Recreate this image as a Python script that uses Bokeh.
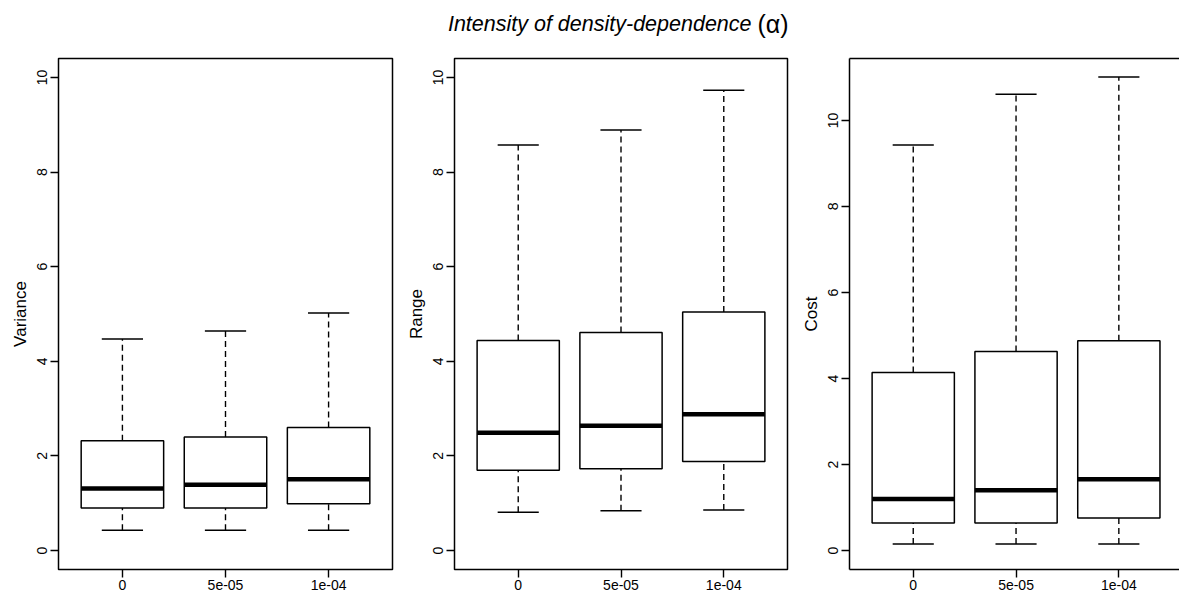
from bokeh.plotting import figure
from bokeh.models import Range1d, FixedTicker, LinearAxis, ColumnDataSource
from bokeh.layouts import row, column
from bokeh.core.properties import value
from bokeh.embed import file_html
from bokeh.resources import INLINE

# ---------------- data ----------------
alpha_labels = ["0", "5e-05", "1e-04"]
positions = [1, 2, 3]

variance_lower = [0.43, 0.43, 0.43]
variance_q1 = [0.90, 0.90, 0.99]
variance_median = [1.31, 1.39, 1.51]
variance_q3 = [2.32, 2.40, 2.60]
variance_upper = [4.47, 4.64, 5.02]

range_lower = [0.81, 0.84, 0.86]
range_q1 = [1.70, 1.73, 1.88]
range_median = [2.49, 2.64, 2.88]
range_q3 = [4.44, 4.61, 5.04]
range_upper = [8.57, 8.89, 9.73]

cost_lower = [0.15, 0.15, 0.15]
cost_q1 = [0.64, 0.64, 0.76]
cost_median = [1.20, 1.40, 1.66]
cost_q3 = [4.14, 4.63, 4.88]
cost_upper = [9.43, 10.61, 11.01]

y_limits = [10, 10, 11]
title_main = "Intensity of density-dependence"
title_symbol = "(\u03b1)"

FONT = "Liberation Sans"
TITLE_H = 50
PANEL_H = 544
BOX_HALF = 0.4
CAP_HALF = 0.2


def make_panel(ylabel, lower, q1, med, q3, upper, ymax, width, bl, br, xend, open_right=False):
    pad = 0.04 * ymax
    p = figure(width=width, height=PANEL_H, title=None,
               x_range=Range1d(0.38, xend), y_range=Range1d(-pad, ymax + pad),
               output_backend="svg", toolbar_location=None,
               min_border_left=bl, min_border_right=br,
               min_border_top=8, min_border_bottom=25)
    p.xgrid.visible = False
    p.ygrid.visible = False
    p.background_fill_color = "white"
    p.border_fill_color = "white"

    src = ColumnDataSource(dict(
        x=positions,
        xl=[x - BOX_HALF for x in positions],
        xr=[x + BOX_HALF for x in positions],
        cl=[x - CAP_HALF for x in positions],
        cr=[x + CAP_HALF for x in positions],
        lower=lower, q1=q1, med=med, q3=q3, upper=upper,
    ))
    # whiskers
    p.segment(x0="x", y0="q3", x1="x", y1="upper", source=src,
              line_color="black", line_width=1.4, line_dash="6 4")
    p.segment(x0="x", y0="lower", x1="x", y1="q1", source=src,
              line_color="black", line_width=1.4, line_dash="6 4")
    # caps
    p.segment(x0="cl", y0="upper", x1="cr", y1="upper", source=src,
              line_color="black", line_width=1.5)
    p.segment(x0="cl", y0="lower", x1="cr", y1="lower", source=src,
              line_color="black", line_width=1.5)
    # boxes
    p.vbar(x="x", width=2 * BOX_HALF, bottom="q1", top="q3", source=src,
           fill_color="white", line_color="black", line_width=1.5)
    # medians
    p.segment(x0="xl", y0="med", x1="xr", y1="med", source=src,
              line_color="black", line_width=4.5)

    xa = p.xaxis[0]
    xa.ticker = FixedTicker(ticks=positions)
    xa.major_label_overrides = {pos: lab for pos, lab in zip(positions, alpha_labels)}
    xa.major_label_standoff = 2
    ya = p.yaxis[0]
    ya.ticker = FixedTicker(ticks=[t for t in range(0, int(ymax) + 1, 2)])
    ya.axis_label = ylabel
    ya.axis_label_text_font = FONT
    ya.axis_label_text_font_size = "17px"
    ya.axis_label_text_font_style = "normal"
    ya.axis_label_text_color = "black"
    ya.axis_label_standoff = 5
    ya.major_label_orientation = "parallel"
    ya.major_label_standoff = 3
    for ax in (xa, ya):
        ax.major_tick_out = 8
        ax.major_tick_in = 0
        ax.minor_tick_out = 0
        ax.minor_tick_in = 0
        ax.major_tick_line_width = 1.4
        ax.major_tick_line_color = "black"
        ax.major_label_text_font = FONT
        ax.major_label_text_font_size = "14px"
        ax.major_label_text_color = "black"
    if open_right:
        p.outline_line_color = None
        for ax in (xa, ya):
            ax.axis_line_color = "black"
            ax.axis_line_width = 1.5
        top = LinearAxis(ticker=FixedTicker(ticks=[]), major_tick_out=0, major_tick_in=0,
                         minor_tick_out=0, minor_tick_in=0, major_label_standoff=0,
                         major_label_text_font_size="0px",
                         axis_line_color="black", axis_line_width=1.5)
        p.add_layout(top, "above")
    else:
        p.outline_line_color = "black"
        p.outline_line_width = 1.5
        p.outline_line_alpha = 1.0
        for ax in (xa, ya):
            ax.axis_line_color = None
    return p


p1 = make_panel("Variance", variance_lower, variance_q1, variance_median, variance_q3,
                variance_upper, y_limits[0], 396, 58, 4, 3.62)
p2 = make_panel("Range", range_lower, range_q1, range_median, range_q3,
                range_upper, y_limits[1], 395, 58, 4, 3.62)
p3 = make_panel("Cost", cost_lower, cost_q1, cost_median, cost_q3,
                cost_upper, y_limits[2], 388, 58, 0, 3.59, open_right=True)

# title strip (pixel coordinates of the strip)
tfig = figure(width=1179, height=TITLE_H, title=None,
              x_range=Range1d(0, 1179), y_range=Range1d(0, TITLE_H),
              output_backend="svg", toolbar_location=None,
              x_axis_location=None, y_axis_location=None,
              min_border_left=0, min_border_right=0, min_border_top=0, min_border_bottom=0)
tfig.xgrid.visible = False
tfig.ygrid.visible = False
tfig.outline_line_color = None
tfig.text(x=[751], y=[TITLE_H - 23], text=[title_main],
          text_font=value(FONT), text_font_style="italic", text_font_size="21.5px",
          text_align="right", text_baseline="alphabetic", text_color="black")
tfig.text(x=[757], y=[TITLE_H - 23], text=[title_symbol],
          text_font=value(FONT), text_font_style="normal", text_font_size="25px",
          text_align="left", text_baseline="alphabetic", text_color="black")

layout = column(tfig, row(p1, p2, p3))
open("out.html", "w").write(file_html(layout, INLINE))
